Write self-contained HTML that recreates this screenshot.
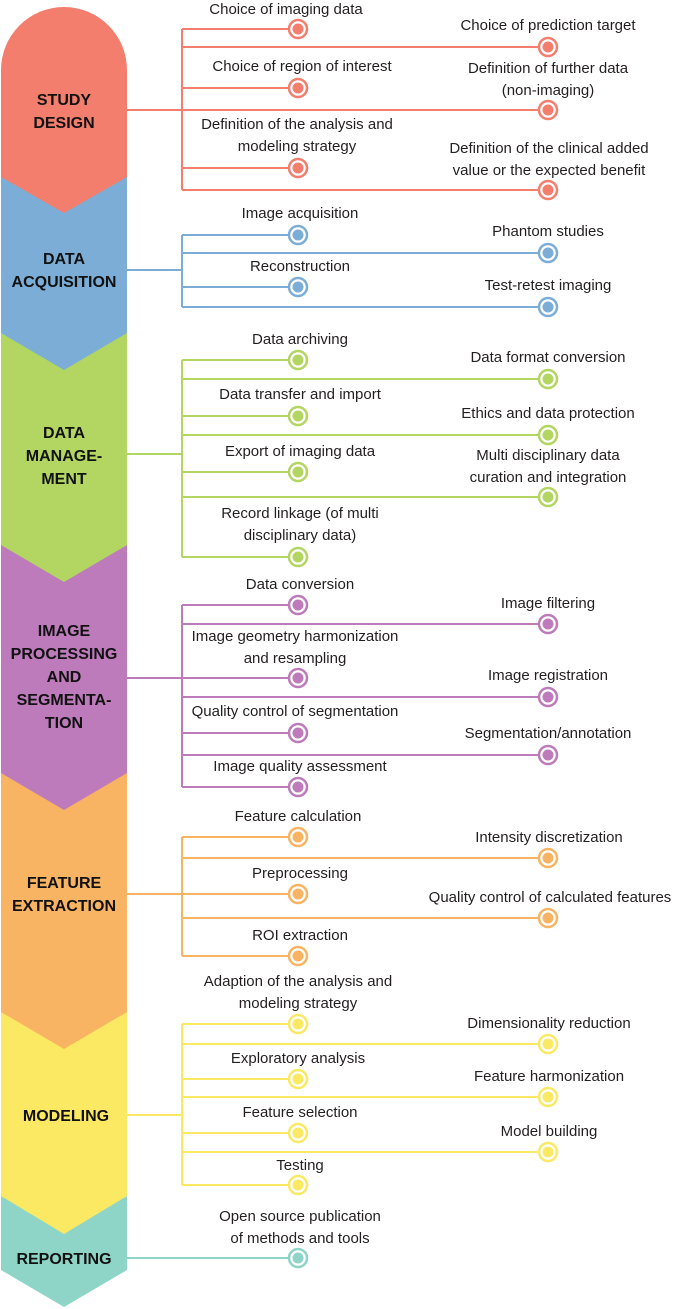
<!DOCTYPE html>
<html><head><meta charset="utf-8"><style>
html,body{margin:0;padding:0;background:#fff;}
svg{display:block}
text{font-family:"Liberation Sans",sans-serif;}
.t{font-size:15px;fill:#231f20;text-anchor:middle}
.h{font-size:16px;font-weight:bold;fill:#111;text-anchor:middle}
</style></head><body>
<svg width="685" height="1309" viewBox="0 0 685 1309" xmlns="http://www.w3.org/2000/svg">
<!-- column shapes bottom-up -->
<path d="M1,1196 L127,1196 L127,1270 L64,1307 L1,1270 Z" fill="#8ed5c8"/>
<path d="M1,1012 L127,1012 L127,1196 L64,1234 L1,1196 Z" fill="#fbe964"/>
<path d="M1,773 L127,773 L127,1012 L64,1049 L1,1012 Z" fill="#f8b462"/>
<path d="M1,545 L127,545 L127,773 L64,810 L1,773 Z" fill="#bd7bbb"/>
<path d="M1,333 L127,333 L127,545 L64,582 L1,545 Z" fill="#b3d662"/>
<path d="M1,177 L127,177 L127,333 L64,370 L1,333 Z" fill="#7badd6"/>
<path d="M1,70 A63,63 0 0 1 127,70 L127,177 L64,213 L1,177 Z" fill="#f47e6d"/>

<text class="h" x="64" y="105">STUDY</text><text class="h" x="64" y="128">DESIGN</text>
<text class="h" x="64" y="264">DATA</text><text class="h" x="64" y="287">ACQUISITION</text>
<text class="h" x="64" y="438">DATA</text><text class="h" x="64" y="461">MANAGE-</text><text class="h" x="64" y="484">MENT</text>
<text class="h" x="64" y="636">IMAGE</text><text class="h" x="64" y="659">PROCESSING</text><text class="h" x="64" y="682">AND</text><text class="h" x="64" y="705">SEGMENTA-</text><text class="h" x="64" y="728">TION</text>
<text class="h" x="64" y="888">FEATURE</text><text class="h" x="64" y="911">EXTRACTION</text>
<text class="h" x="66" y="1121">MODELING</text>
<text class="h" x="64" y="1264">REPORTING</text>

<!-- RED -->
<g stroke="#f47e6d" stroke-width="2" fill="none">
<path d="M127,110 H182 M182,29 V190 M182,29 H289 M182,47 H539 M182,88 H289 M182,110 H539 M182,168 H289 M182,190 H539"/>
</g>
<g fill="#fff" stroke="#f47e6d" stroke-width="2.5">
<circle cx="298" cy="29" r="9"/><circle cx="548" cy="47" r="9"/><circle cx="298" cy="88" r="9"/><circle cx="548" cy="110" r="9"/><circle cx="298" cy="168" r="9"/><circle cx="548" cy="190" r="9"/>
</g>
<g fill="#f47e6d">
<circle cx="298" cy="29" r="5.5"/><circle cx="548" cy="47" r="5.5"/><circle cx="298" cy="88" r="5.5"/><circle cx="548" cy="110" r="5.5"/><circle cx="298" cy="168" r="5.5"/><circle cx="548" cy="190" r="5.5"/>
</g>
<text class="t" x="286" y="14">Choice of imaging data</text>
<text class="t" x="548" y="30">Choice of prediction target</text>
<text class="t" x="302" y="71">Choice of region of interest</text>
<text class="t" x="548" y="73">Definition of further data</text><text class="t" x="548" y="95">(non-imaging)</text>
<text class="t" x="297" y="129">Definition of the analysis and</text><text class="t" x="297" y="151">modeling strategy</text>
<text class="t" x="549" y="153">Definition of the clinical added</text><text class="t" x="549" y="175">value or the expected benefit</text>

<!-- BLUE -->
<g stroke="#7badd6" stroke-width="2" fill="none">
<path d="M127,270 H182 M182,235 V307 M182,235 H289 M182,253 H539 M182,287 H289 M182,307 H539"/>
</g>
<g fill="#fff" stroke="#7badd6" stroke-width="2.5">
<circle cx="298" cy="235" r="9"/><circle cx="548" cy="253" r="9"/><circle cx="298" cy="287" r="9"/><circle cx="548" cy="307" r="9"/>
</g>
<g fill="#7badd6">
<circle cx="298" cy="235" r="5.5"/><circle cx="548" cy="253" r="5.5"/><circle cx="298" cy="287" r="5.5"/><circle cx="548" cy="307" r="5.5"/>
</g>
<text class="t" x="300" y="218">Image acquisition</text>
<text class="t" x="548" y="236">Phantom studies</text>
<text class="t" x="300" y="271">Reconstruction</text>
<text class="t" x="548" y="290">Test-retest imaging</text>

<!-- GREEN -->
<g stroke="#b3d662" stroke-width="2" fill="none">
<path d="M127,454 H182 M182,360 V557 M182,360 H289 M182,379 H539 M182,416 H289 M182,435 H539 M182,472 H289 M182,497 H539 M182,557 H289"/>
</g>
<g fill="#fff" stroke="#b3d662" stroke-width="2.5">
<circle cx="298" cy="360" r="9"/><circle cx="548" cy="379" r="9"/><circle cx="298" cy="416" r="9"/><circle cx="548" cy="435" r="9"/><circle cx="298" cy="472" r="9"/><circle cx="548" cy="497" r="9"/><circle cx="298" cy="557" r="9"/>
</g>
<g fill="#b3d662">
<circle cx="298" cy="360" r="5.5"/><circle cx="548" cy="379" r="5.5"/><circle cx="298" cy="416" r="5.5"/><circle cx="548" cy="435" r="5.5"/><circle cx="298" cy="472" r="5.5"/><circle cx="548" cy="497" r="5.5"/><circle cx="298" cy="557" r="5.5"/>
</g>
<text class="t" x="300" y="344">Data archiving</text>
<text class="t" x="548" y="362">Data format conversion</text>
<text class="t" x="300" y="399">Data transfer and import</text>
<text class="t" x="548" y="418">Ethics and data protection</text>
<text class="t" x="300" y="456">Export of imaging data</text>
<text class="t" x="548" y="460">Multi disciplinary data</text><text class="t" x="548" y="482">curation and integration</text>
<text class="t" x="300" y="518">Record linkage (of multi</text><text class="t" x="300" y="540">disciplinary data)</text>

<!-- PURPLE -->
<g stroke="#bd7bbb" stroke-width="2" fill="none">
<path d="M127,678 H182 M182,605 V787 M182,605 H289 M182,624 H539 M182,678 H289 M182,697 H539 M182,733 H289 M182,755 H539 M182,787 H289"/>
</g>
<g fill="#fff" stroke="#bd7bbb" stroke-width="2.5">
<circle cx="298" cy="605" r="9"/><circle cx="548" cy="624" r="9"/><circle cx="298" cy="678" r="9"/><circle cx="548" cy="697" r="9"/><circle cx="298" cy="733" r="9"/><circle cx="548" cy="755" r="9"/><circle cx="298" cy="787" r="9"/>
</g>
<g fill="#bd7bbb">
<circle cx="298" cy="605" r="5.5"/><circle cx="548" cy="624" r="5.5"/><circle cx="298" cy="678" r="5.5"/><circle cx="548" cy="697" r="5.5"/><circle cx="298" cy="733" r="5.5"/><circle cx="548" cy="755" r="5.5"/><circle cx="298" cy="787" r="5.5"/>
</g>
<text class="t" x="300" y="589">Data conversion</text>
<text class="t" x="548" y="608">Image filtering</text>
<text class="t" x="295" y="641">Image geometry harmonization</text><text class="t" x="295" y="663">and resampling</text>
<text class="t" x="548" y="680">Image registration</text>
<text class="t" x="295" y="716">Quality control of segmentation</text>
<text class="t" x="548" y="738">Segmentation/annotation</text>
<text class="t" x="300" y="771">Image quality assessment</text>

<!-- ORANGE -->
<g stroke="#f8b462" stroke-width="2" fill="none">
<path d="M127,894 H182 M182,837 V956 M182,837 H289 M182,858 H539 M182,894 H289 M182,918 H539 M182,956 H289"/>
</g>
<g fill="#fff" stroke="#f8b462" stroke-width="2.5">
<circle cx="298" cy="837" r="9"/><circle cx="548" cy="858" r="9"/><circle cx="298" cy="894" r="9"/><circle cx="548" cy="918" r="9"/><circle cx="298" cy="956" r="9"/>
</g>
<g fill="#f8b462">
<circle cx="298" cy="837" r="5.5"/><circle cx="548" cy="858" r="5.5"/><circle cx="298" cy="894" r="5.5"/><circle cx="548" cy="918" r="5.5"/><circle cx="298" cy="956" r="5.5"/>
</g>
<text class="t" x="298" y="821">Feature calculation</text>
<text class="t" x="549" y="842">Intensity discretization</text>
<text class="t" x="300" y="878">Preprocessing</text>
<text class="t" x="550" y="902">Quality control of calculated features</text>
<text class="t" x="300" y="940">ROI extraction</text>

<!-- YELLOW -->
<g stroke="#fbe964" stroke-width="2" fill="none">
<path d="M127,1115 H182 M182,1024 V1185 M182,1024 H289 M182,1044 H539 M182,1079 H289 M182,1097 H539 M182,1133 H289 M182,1152 H539 M182,1185 H289"/>
</g>
<g fill="#fff" stroke="#fbe964" stroke-width="2.5">
<circle cx="298" cy="1024" r="9"/><circle cx="548" cy="1044" r="9"/><circle cx="298" cy="1079" r="9"/><circle cx="548" cy="1097" r="9"/><circle cx="298" cy="1133" r="9"/><circle cx="548" cy="1152" r="9"/><circle cx="298" cy="1185" r="9"/>
</g>
<g fill="#fbe964">
<circle cx="298" cy="1024" r="5.5"/><circle cx="548" cy="1044" r="5.5"/><circle cx="298" cy="1079" r="5.5"/><circle cx="548" cy="1097" r="5.5"/><circle cx="298" cy="1133" r="5.5"/><circle cx="548" cy="1152" r="5.5"/><circle cx="298" cy="1185" r="5.5"/>
</g>
<text class="t" x="298" y="986">Adaption of the analysis and</text><text class="t" x="298" y="1008">modeling strategy</text>
<text class="t" x="549" y="1028">Dimensionality reduction</text>
<text class="t" x="298" y="1063">Exploratory analysis</text>
<text class="t" x="549" y="1081">Feature harmonization</text>
<text class="t" x="300" y="1117">Feature selection</text>
<text class="t" x="549" y="1136">Model building</text>
<text class="t" x="300" y="1170">Testing</text>

<!-- TEAL -->
<path d="M127,1258 H289" stroke="#8ed5c8" stroke-width="2" fill="none"/>
<circle cx="298" cy="1258" r="9" fill="#fff" stroke="#8ed5c8" stroke-width="2.5"/>
<circle cx="298" cy="1258" r="5.5" fill="#8ed5c8"/>
<text class="t" x="300" y="1221">Open source publication</text><text class="t" x="300" y="1243">of methods and tools</text>
</svg>
</body></html>
